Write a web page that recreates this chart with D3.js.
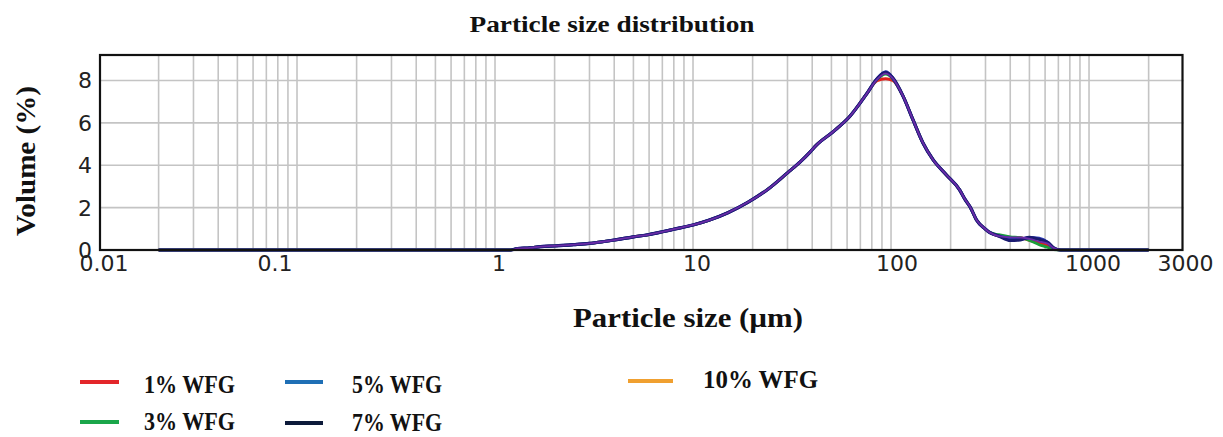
<!DOCTYPE html>
<html><head><meta charset="utf-8">
<script src="https://cdn.jsdelivr.net/npm/d3@7"></script>
<style>body{margin:0;background:#fff}svg{display:block}</style>
</head><body><svg id="c" width="1223" height="437"></svg>
<script>
// ---- data ----
const sizes = [0.02,1.2,1.3,1.5,1.7,2.0,2.5,3.0,3.5,4.0,5.0,6.0,7.0,8.0,10,12,15,19,24,30,35,39,42,51,62,75,85,94,102,115,129,145,163,190,222,236,252,270,300,316,350,400,450,500,560,620,660,720,2000];
const wfg1  = [0,0,0.07,0.10,0.16,0.19,0.25,0.31,0.39,0.47,0.62,0.73,0.86,0.98,1.18,1.40,1.76,2.26,2.88,3.64,4.18,4.62,4.95,5.58,6.31,7.34,7.98,8.08,8.00,7.26,6.15,5.05,4.26,3.55,2.84,2.40,2.00,1.42,0.98,0.82,0.66,0.60,0.58,0.45,0.35,0.20,0.05,0,0];
const wfg3  = [0,0,0.07,0.10,0.16,0.19,0.25,0.31,0.39,0.47,0.62,0.73,0.86,0.98,1.18,1.40,1.76,2.26,2.88,3.64,4.18,4.62,4.95,5.58,6.31,7.34,8.05,8.30,8.08,7.26,6.15,5.05,4.26,3.55,2.84,2.40,2.00,1.42,0.98,0.82,0.72,0.62,0.58,0.45,0.25,0.12,0.02,0,0];
const wfg5  = [0,0,0.07,0.10,0.16,0.19,0.25,0.31,0.39,0.47,0.62,0.73,0.86,0.98,1.18,1.40,1.76,2.26,2.88,3.64,4.18,4.62,4.95,5.58,6.31,7.34,8.08,8.40,8.12,7.26,6.15,5.05,4.26,3.55,2.84,2.40,2.00,1.42,0.98,0.82,0.66,0.55,0.52,0.58,0.55,0.35,0.10,0,0];
const wfg7  = [0,0,0.07,0.10,0.16,0.19,0.25,0.31,0.39,0.47,0.62,0.73,0.86,0.98,1.18,1.40,1.76,2.26,2.88,3.64,4.18,4.62,4.95,5.58,6.31,7.34,8.08,8.38,8.12,7.26,6.15,5.05,4.26,3.55,2.84,2.40,2.00,1.42,0.98,0.82,0.66,0.45,0.48,0.60,0.50,0.35,0.12,0,0];
const wfg10 = [0,0,0.07,0.10,0.16,0.19,0.25,0.31,0.39,0.47,0.62,0.73,0.86,0.98,1.18,1.40,1.76,2.26,2.88,3.64,4.18,4.62,4.95,5.58,6.31,7.34,8.05,8.32,8.10,7.26,6.15,5.05,4.26,3.55,2.84,2.40,2.00,1.42,0.98,0.82,0.66,0.60,0.59,0.52,0.40,0.30,0.10,0,0];
const seriesNames = ["1% WFG","3% WFG","5% WFG","7% WFG","10% WFG"];
const xTickLabels = ["0.01","0.1","1","10","100","1000","3000"];
const xTickValues = [0.01,0.1,1,10,100,1000,3000];
const yTickValues = [0,2,4,6,8];

// ---- layout ----
const svg = d3.select("#c");
const L=99, R=1183.5, T=55, B=250;
const x = d3.scaleLog().domain([0.01,3000]).range([L,R]);
const y = d3.scaleLinear().domain([0,9.2]).range([B,T]);
const lineCol = ["#e0201c","#1a9e3a","#2a3ab8","#1a1a70","#6a2ca8"];
const lineW   = [2.8,2.8,3.2,3.2,1.8];
const legCol  = ["#e3262a","#1aa64a","#1f6fb5","#0d1a3a","#f0a030"];
const serif = "'Liberation Serif','Times New Roman',serif";
const sans = "'DejaVu Sans',Verdana,sans-serif";

// grid
const gridX = [];
for (let e=-2;e<=3;e++) for (let m=1;m<=9;m++){const v=m*Math.pow(10,e); if(v>0.0101 && v<2999) gridX.push(v);}
svg.append("g").selectAll("line").data(gridX).join("line")
  .attr("x1",d=>x(d)).attr("x2",d=>x(d)).attr("y1",T).attr("y2",B)
  .attr("stroke","#c4c4c4").attr("stroke-width",1.6);
svg.append("g").selectAll("line").data(yTickValues.filter(v=>v>0)).join("line")
  .attr("x1",L).attr("x2",R).attr("y1",d=>y(d)).attr("y2",d=>y(d))
  .attr("stroke","#c4c4c4").attr("stroke-width",1.6);

// lines (drawn order: 1%, 3%, 5%, 7%, 10%)
const allSeries=[wfg1,wfg3,wfg5,wfg7,wfg10];
const line = d3.line().x((d,i)=>x(sizes[i])).y(d=>y(d)).curve(d3.curveMonotoneX);
allSeries.forEach((data,k)=>{
  svg.append("path").attr("d",line(data)).attr("fill","none")
    .attr("stroke",lineCol[k]).attr("stroke-width",lineW[k]).attr("stroke-linejoin","round");
});

// frame
svg.append("rect").attr("x",L+1).attr("y",T).attr("width",R-L-2).attr("height",B-T)
  .attr("fill","none").attr("stroke","#111").attr("stroke-width",2.2);

// y ticks
svg.append("g").selectAll("text").data(yTickValues).join("text")
  .attr("x",92).attr("y",d=>y(d)+8).attr("text-anchor","end")
  .attr("font-family",sans).attr("font-size",22).attr("fill","#222").text(d=>d);
// x ticks
const xOff=[5,-22,4,4,6,4,2];
svg.append("g").selectAll("text").data(xTickValues).join("text")
  .attr("x",(d,i)=>x(d)+xOff[i]).attr("y",271).attr("text-anchor","middle")
  .attr("font-family",sans).attr("font-size",22).attr("fill","#222").text((d,i)=>xTickLabels[i]);

// titles
function fit(sel,w){sel.attr("textLength",w).attr("lengthAdjust","spacingAndGlyphs");return sel;}
fit(svg.append("text").attr("x",612).attr("y",32).attr("text-anchor","middle")
  .attr("font-family",serif).attr("font-weight","bold").attr("font-size",24).attr("fill","#111")
  .text("Particle size distribution"),285);
fit(svg.append("text").attr("transform","translate(35,161) rotate(-90)").attr("text-anchor","middle")
  .attr("font-family",serif).attr("font-weight","bold").attr("font-size",28).attr("fill","#111")
  .text("Volume (%)"),150);
fit(svg.append("text").attr("x",688).attr("y",327).attr("text-anchor","middle")
  .attr("font-family",serif).attr("font-weight","bold").attr("font-size",28).attr("fill","#111")
  .text("Particle size (µm)"),230);

// legend
const defs=svg.append("defs");
defs.append("filter").attr("id","sh").attr("x","-20%").attr("y","-200%").attr("width","140%").attr("height","500%")
  .append("feGaussianBlur").attr("stdDeviation",1.2);
const legPos=[{x1:80,x2:119,ly:382,tx:144,ty:393,w:91},{x1:80,x2:119,ly:422,tx:144,ty:430,w:91},
  {x1:285,x2:323,ly:382,tx:352,ty:393,w:90},{x1:285,x2:323,ly:423,tx:352,ty:431,w:90},
  {x1:628,x2:673,ly:381,tx:703,ty:388,w:115}];
seriesNames.forEach((n,i)=>{
  const p=legPos[i];
  svg.append("line").attr("x1",p.x1+2).attr("x2",p.x2+2).attr("y1",p.ly+3).attr("y2",p.ly+3)
    .attr("stroke","#777").attr("stroke-width",3).attr("filter","url(#sh)");
  svg.append("line").attr("x1",p.x1).attr("x2",p.x2).attr("y1",p.ly).attr("y2",p.ly)
    .attr("stroke",legCol[i]).attr("stroke-width",4);
  fit(svg.append("text").attr("x",p.tx).attr("y",p.ty).attr("font-family",serif).attr("font-weight","bold")
    .attr("font-size",25).attr("fill","#111").text(n),p.w);
});
</script></body></html>
